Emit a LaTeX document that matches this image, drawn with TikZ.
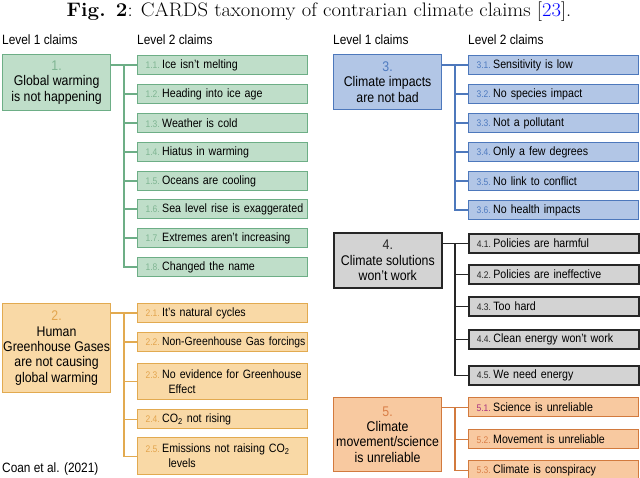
\documentclass[tikz,border=0pt]{standalone}
\usepackage{fontspec}
\newfontfamily\claimfont{Liberation Sans}[FakeStretch=0.88]

\definecolor{gfill}{HTML}{BFDEC9}
\definecolor{gline}{HTML}{6DAE86}
\definecolor{gnum}{HTML}{7FB592}
\definecolor{ofill}{HTML}{F9D9A6}
\definecolor{oline}{HTML}{E2AA50}
\definecolor{onum}{HTML}{E3A54E}
\definecolor{bfill}{HTML}{B2C6E6}
\definecolor{bline}{HTML}{4D78BC}
\definecolor{bnum}{HTML}{4F7BC0}
\definecolor{kfill}{HTML}{D3D3D3}
\definecolor{kline}{HTML}{262626}
\definecolor{knum}{HTML}{262626}
\definecolor{rfill}{HTML}{F8C9A0}
\definecolor{rline}{HTML}{D27A3E}
\definecolor{rnum}{HTML}{DA7F48}
\definecolor{rpink}{HTML}{A8307F}

\newcommand{\cnum}[2]{\hspace*{8pt}{\fontsize{9.6}{10}\selectfont\color{#1}#2}\hspace{2.5pt}}

\tikzset{
  claim/.style={draw=#1line, fill=#1fill, line width=1.2pt, anchor=north west,
    minimum width=170pt, minimum height=19pt, inner xsep=0pt, inner ysep=0pt,
    text width=170pt, align=left, font=\claimfont\fontsize{12.1}{15}\selectfont},
  topic/.style={draw=#1line, fill=#1fill, line width=1.2pt, anchor=north west,
    minimum width=108pt, inner sep=0pt, align=center,
    font=\claimfont\fontsize{14}{15.3}\selectfont},
  wire/.style={draw=#1line, line width=1.2pt},
  heading/.style={anchor=west, inner sep=0pt, font=\claimfont\fontsize{13.5}{15}\selectfont},
}

\begin{document}
\begin{tikzpicture}[x=1pt, y=-1pt]
\useasboundingbox (0,0) rectangle (640,478);

\node (title) at (319,12) {\scalebox{1.055}[1]{\fontsize{19.5}{21}\selectfont\textbf{Fig. 2}: CARDS taxonomy of contrarian climate claims [\textcolor{blue}{23}].}};

\node[heading] (h1l) at (2,40) {Level 1 claims};
\node[heading] (h2l) at (137,40) {Level 2 claims};
\node[heading] (h1r) at (333,40) {Level 1 claims};
\node[heading] (h2r) at (468,40) {Level 2 claims};

% level 1 claims
\node[topic=g, minimum height=56pt] (c1) at (2,54) {{\color{gnum}1.}\\Global warming\\is not happening};
\node[topic=o, minimum height=89pt] (c2) at (2,303) {{\color{onum}2.}\\Human\\Greenhouse Gases\\are not causing\\global warming};
\node[topic=b, minimum height=55pt] (c3) at (333,54) {{\color{bnum}3.}\\Climate impacts\\are not bad};
\node[topic=k, minimum height=55pt, line width=1.6pt] (c4) at (333,232) {{\color{knum}4.}\\Climate solutions\\won’t work};
\node[topic=r, minimum height=74pt] (c5) at (333,397) {{\color{rnum}5.}\\Climate\\movement/science\\is unreliable};

% level 2 claims
\foreach \k/\y/\t in {1/55/Ice isn’t melting, 2/84/Heading into ice age, 3/113/Weather is cold,
    4/142/Hiatus in warming, 5/171/Oceans are cooling, 6/199/Sea level rise is exaggerated,
    7/228/Extremes aren’t increasing, 8/257/Changed the name}
  \node[claim=g] (c1\k) at (137,\y) {\cnum{gnum}{1.\k.}\t};

\foreach \k/\y/\t in {1/303/It’s natural cycles, 4/409/{CO\textsubscript{2} not rising}}
  \node[claim=o] (c2\k) at (137,\y) {\cnum{onum}{2.\k.}\t};
\node[claim=o] (c22) at (137,332) {\mbox{\cnum{onum}{2.2.}\fontsize{11.8}{15}\selectfont Non-Greenhouse Gas forcings}};
\node[claim=o, minimum height=36pt] (c23) at (137,363) {\cnum{onum}{2.3.}No evidence for Greenhouse\\\hspace*{31pt}Effect};
\node[claim=o, minimum height=37pt] (c25) at (137,437) {\cnum{onum}{2.5.}Emissions not raising CO\textsubscript{2}\\\hspace*{31pt}levels};

\foreach \k/\y/\t in {1/55/Sensitivity is low, 2/84/No species impact, 3/113/Not a pollutant,
    4/142/Only a few degrees, 5/171/No link to conflict, 6/200/No health impacts}
  \node[claim=b] (c3\k) at (468,\y) {\cnum{bnum}{3.\k.}\t};

\foreach \k/\y/\t in {1/233/Policies are harmful, 2/264/Policies are ineffective, 3/296/Too hard,
    4/329/Clean energy won’t work, 5/365/We need energy}
  \node[claim=k, line width=1.6pt] (c4\k) at (468,\y) {\cnum{knum}{4.\k.}\t};

\node[claim=r] (c51) at (468,397) {\cnum{rpink}{5.1.}Science is unreliable};
\foreach \k/\y/\t in {2/429/Movement is unreliable, 3/460/Climate is conspiracy}
  \node[claim=r] (c5\k) at (468,\y) {\cnum{rnum}{5.\k.}\t};

% connectors
\coordinate (tl) at (124,0);
\coordinate (tr) at (455,0);
\draw[wire=g] (c1.east |- c11.west) -- (c11.west);
\foreach \k in {2,...,8} \draw[wire=g] (tl |- c11.west) |- (c1\k.west);
\draw[wire=o] (c2.east |- c21.west) -- (c21.west);
\foreach \k in {2,...,5} \draw[wire=o] (tl |- c21.west) |- (c2\k.west);
\draw[wire=b] (c3.east |- c31.west) -- (c31.west);
\foreach \k in {2,...,6} \draw[wire=b] (tr |- c31.west) |- (c3\k.west);
\draw[wire=k, line width=1.5pt] (c4.east |- c41.west) -- (c41.west);
\foreach \k in {2,...,5} \draw[wire=k, line width=1.5pt] (tr |- c41.west) |- (c4\k.west);
\draw[wire=r] (c5.east |- c51.west) -- (c51.west);
\foreach \k in {2,3} \draw[wire=r] (tr |- c51.west) |- (c5\k.west);

\node[heading] (src) at (2,469) {Coan et al. (2021)};
\end{tikzpicture}
\end{document}
